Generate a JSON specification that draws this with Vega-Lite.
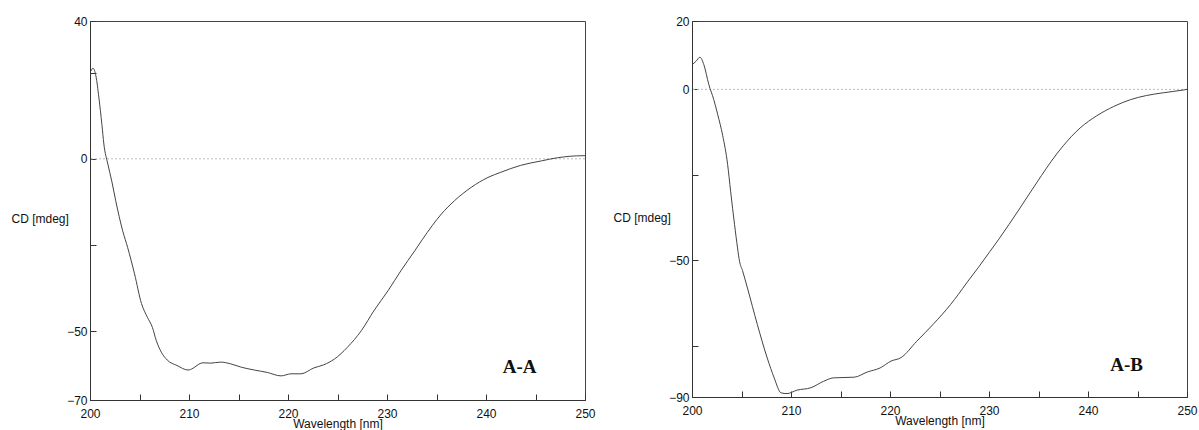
{
  "$schema": "https://vega.github.io/schema/vega-lite/v6.json",
  "padding": {"left": 10, "top": 14, "right": 5, "bottom": 0},
  "bounds": "flush",
  "spacing": 107,
  "background": "white",
  "config": {
    "font": "Liberation Sans",
    "view": {"stroke": "#444", "strokeWidth": 1},
    "axis": {
      "grid": false,
      "domainColor": "#333",
      "tickColor": "#333",
      "labelColor": "#111",
      "titleColor": "#111",
      "labelFontSize": 12,
      "titleFontSize": 12,
      "titleFontWeight": "normal",
      "labelFont": "Liberation Sans",
      "titleFont": "Liberation Sans",
      "labelFlush": false
    }
  },
  "datasets": {
    "aa": [
      {"wl": 200.1, "cd": 25.5}, {"wl": 200.3, "cd": 26.3}, {"wl": 200.6, "cd": 24.0}, {"wl": 200.9, "cd": 17.7},
      {"wl": 201.2, "cd": 10.0}, {"wl": 201.4, "cd": 4.3}, {"wl": 201.8, "cd": -1.5}, {"wl": 202.2, "cd": -6.5},
      {"wl": 202.6, "cd": -12.2}, {"wl": 203.3, "cd": -20.9}, {"wl": 203.8, "cd": -25.7}, {"wl": 204.5, "cd": -33.4},
      {"wl": 205.2, "cd": -42.0}, {"wl": 205.8, "cd": -46.0}, {"wl": 206.3, "cd": -48.9}, {"wl": 206.7, "cd": -52.8},
      {"wl": 207.2, "cd": -56.1}, {"wl": 207.8, "cd": -58.4}, {"wl": 208.8, "cd": -60.0}, {"wl": 209.9, "cd": -61.3},
      {"wl": 210.4, "cd": -60.8}, {"wl": 211.0, "cd": -59.6}, {"wl": 211.4, "cd": -59.2}, {"wl": 212.2, "cd": -59.3},
      {"wl": 213.2, "cd": -59.0}, {"wl": 214.2, "cd": -59.5}, {"wl": 215.3, "cd": -60.5}, {"wl": 216.6, "cd": -61.3},
      {"wl": 217.9, "cd": -62.0}, {"wl": 219.3, "cd": -63.0}, {"wl": 220.3, "cd": -62.4}, {"wl": 221.3, "cd": -62.4},
      {"wl": 222.6, "cd": -60.7}, {"wl": 223.6, "cd": -59.8}, {"wl": 224.7, "cd": -58.1}, {"wl": 226.0, "cd": -54.7},
      {"wl": 227.4, "cd": -49.9}, {"wl": 228.7, "cd": -44.0}, {"wl": 230.1, "cd": -38.3}, {"wl": 231.4, "cd": -32.5},
      {"wl": 232.8, "cd": -26.7}, {"wl": 233.6, "cd": -23.3}, {"wl": 235.5, "cd": -16.0}, {"wl": 236.8, "cd": -12.2},
      {"wl": 238.5, "cd": -8.3}, {"wl": 240.2, "cd": -5.4}, {"wl": 241.5, "cd": -3.9}, {"wl": 243.5, "cd": -1.9},
      {"wl": 245.6, "cd": -0.6}, {"wl": 247.2, "cd": 0.3}, {"wl": 249.8, "cd": 0.9}, {"wl": 250.0, "cd": 0.9}
    ],
    "ab": [
      {"wl": 200.1, "cd": 7.4}, {"wl": 200.4, "cd": 8.2}, {"wl": 200.8, "cd": 9.4}, {"wl": 201.2, "cd": 7.2},
      {"wl": 201.7, "cd": 1.4}, {"wl": 202.2, "cd": -3.0}, {"wl": 202.6, "cd": -7.4}, {"wl": 203.1, "cd": -13.5},
      {"wl": 203.6, "cd": -22.0}, {"wl": 203.9, "cd": -29.8}, {"wl": 204.3, "cd": -39.6}, {"wl": 204.6, "cd": -46.4},
      {"wl": 204.8, "cd": -50.3}, {"wl": 205.1, "cd": -53.0}, {"wl": 205.6, "cd": -58.1}, {"wl": 206.6, "cd": -68.8},
      {"wl": 207.6, "cd": -78.6}, {"wl": 208.3, "cd": -84.4}, {"wl": 209.0, "cd": -88.8}, {"wl": 209.6, "cd": -89.0},
      {"wl": 210.6, "cd": -88.0}, {"wl": 212.0, "cd": -87.3}, {"wl": 213.3, "cd": -85.4}, {"wl": 214.3, "cd": -84.4},
      {"wl": 216.4, "cd": -84.2}, {"wl": 217.7, "cd": -82.7}, {"wl": 219.0, "cd": -81.5}, {"wl": 220.1, "cd": -79.5},
      {"wl": 221.1, "cd": -78.5}, {"wl": 222.7, "cd": -73.7}, {"wl": 224.4, "cd": -68.6}, {"wl": 226.1, "cd": -63.0},
      {"wl": 226.9, "cd": -60.0}, {"wl": 227.8, "cd": -56.4}, {"wl": 228.9, "cd": -52.2}, {"wl": 230.0, "cd": -47.8},
      {"wl": 231.0, "cd": -43.8}, {"wl": 232.0, "cd": -39.6}, {"wl": 233.0, "cd": -35.3}, {"wl": 234.2, "cd": -30.0},
      {"wl": 235.3, "cd": -25.2}, {"wl": 236.3, "cd": -21.0}, {"wl": 237.5, "cd": -16.5}, {"wl": 239.2, "cd": -11.3},
      {"wl": 240.9, "cd": -7.7}, {"wl": 242.6, "cd": -5.0}, {"wl": 244.3, "cd": -3.0}, {"wl": 245.9, "cd": -1.8},
      {"wl": 247.6, "cd": -1.0}, {"wl": 249.6, "cd": -0.2}, {"wl": 250.0, "cd": 0.0}
    ],
    "labA": [{"wl": 243.4, "cd": -60.5, "label": "A-A", "zero": 0}],
    "labB": [{"wl": 243.9, "cd": -80.5, "label": "A-B", "zero": 0}]
  },
  "hconcat": [
    {
      "width": 495,
      "height": 379,
      "layer": [
        {
          "data": {"name": "labA"},
          "mark": {"type": "rule", "color": "#bbb", "strokeDash": [2, 2], "strokeWidth": 1},
          "encoding": {"y": {"field": "zero", "type": "quantitative"}}
        },
        {
          "data": {"name": "aa"},
          "mark": {"type": "line", "color": "#444", "strokeWidth": 1, "interpolate": "monotone"},
          "encoding": {
            "x": {
              "field": "wl", "type": "quantitative",
              "scale": {"domain": [200, 250], "nice": false, "zero": false},
              "axis": {
                "title": "Wavelength [nm]",
                "values": [200, 205, 210, 215, 220, 225, 230, 235, 240, 245, 250],
                "labelExpr": "datum.value % 10 === 0 ? datum.label : ''",
                "tickSize": -6,
                "labelPadding": 14,
                "titleY": 30,
                "titleBaseline": "bottom"
              }
            },
            "y": {
              "field": "cd", "type": "quantitative",
              "scale": {"domain": [-70, 40], "nice": false, "zero": false},
              "axis": {
                "title": "CD [mdeg]",
                "values": [40, 25, 0, -25, -50, -70],
                "labelExpr": "datum.value === 25 || datum.value === -25 ? '' : datum.label",
                "tickSize": -6,
                "labelPadding": 9,
                "titleAngle": 0,
                "titleAlign": "left",
                "titleBaseline": "middle",
                "titleX": -79,
                "titleY": 197
              }
            }
          }
        },
        {
          "data": {"name": "labA"},
          "mark": {"type": "text", "font": "Liberation Serif", "fontWeight": "bold", "fontSize": 19, "color": "#111"},
          "encoding": {
            "x": {"field": "wl", "type": "quantitative"},
            "y": {"field": "cd", "type": "quantitative"},
            "text": {"field": "label"}
          }
        }
      ]
    },
    {
      "width": 495,
      "height": 376,
      "layer": [
        {
          "data": {"name": "labB"},
          "mark": {"type": "rule", "color": "#bbb", "strokeDash": [2, 2], "strokeWidth": 1},
          "encoding": {"y": {"field": "zero", "type": "quantitative"}}
        },
        {
          "data": {"name": "ab"},
          "mark": {"type": "line", "color": "#444", "strokeWidth": 1, "interpolate": "monotone"},
          "encoding": {
            "x": {
              "field": "wl", "type": "quantitative",
              "scale": {"domain": [200, 250], "nice": false, "zero": false},
              "axis": {
                "title": "Wavelength [nm]",
                "values": [200, 205, 210, 215, 220, 225, 230, 235, 240, 245, 250],
                "labelExpr": "datum.value % 10 === 0 ? datum.label : ''",
                "tickSize": -6,
                "labelPadding": 14,
                "titleY": 30,
                "titleBaseline": "bottom"
              }
            },
            "y": {
              "field": "cd", "type": "quantitative",
              "scale": {"domain": [-90, 20], "nice": false, "zero": false},
              "axis": {
                "title": "CD [mdeg]",
                "values": [20, 0, -25, -50, -75, -90],
                "labelExpr": "datum.value === -25 || datum.value === -75 ? '' : datum.label",
                "tickSize": -6,
                "labelPadding": 9,
                "titleAngle": 0,
                "titleAlign": "left",
                "titleBaseline": "middle",
                "titleX": -79,
                "titleY": 196
              }
            }
          }
        },
        {
          "data": {"name": "labB"},
          "mark": {"type": "text", "font": "Liberation Serif", "fontWeight": "bold", "fontSize": 19, "color": "#111"},
          "encoding": {
            "x": {"field": "wl", "type": "quantitative"},
            "y": {"field": "cd", "type": "quantitative"},
            "text": {"field": "label"}
          }
        }
      ]
    }
  ]
}
